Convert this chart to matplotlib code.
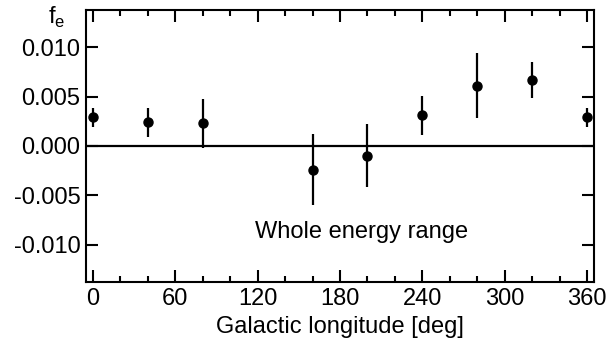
import matplotlib
matplotlib.use("Agg")
import matplotlib.pyplot as plt
from matplotlib.ticker import MultipleLocator

plt.rcParams['font.family'] = ['Liberation Sans', 'DejaVu Sans']

longitude = [0, 40, 80, 160, 200, 240, 280, 320, 360]
fe = [0.0029, 0.0024, 0.0023, -0.0024, -0.0010, 0.0031, 0.0061, 0.0067, 0.0029]
fe_err = [0.0010, 0.0015, 0.0025, 0.0036, 0.0032, 0.0020, 0.0033, 0.0018, 0.0010]
xticks = [0, 60, 120, 180, 240, 300, 360]
yticks = [-0.010, -0.005, 0.000, 0.005, 0.010]
ytick_labels = ["-0.010", "-0.005", "0.000", "0.005", "0.010"]

fig = plt.figure(figsize=(6.07, 3.40), dpi=100)
ax = fig.add_axes([86/607, 1-282/340, (594-86)/607, (282-10)/340])

ax.axhline(0, color='black', lw=1.6, zorder=1)
ax.errorbar(longitude, fe, yerr=fe_err, fmt='o', color='black', ms=6.5,
            elinewidth=1.6, capsize=0, zorder=3)

ax.set_xlim(-5, 365)
ax.set_ylim(-0.0138, 0.0138)
ax.set_xticks(xticks)
ax.xaxis.set_minor_locator(MultipleLocator(20))
ax.set_yticks(yticks)
ax.set_yticklabels(ytick_labels)

for s in ax.spines.values():
    s.set_linewidth(1.5)
ax.tick_params(which='both', direction='in', top=True, right=True, width=1.5,
               labelsize=17, colors='black')
ax.tick_params(which='major', length=8.5, pad=4)
ax.tick_params(which='minor', length=4.3)

ax.set_xlabel('Galactic longitude [deg]', fontsize=17, labelpad=4.5)
fig.text(362/607, 1-232/340, 'Whole energy range', fontsize=17, ha='center', va='center')
fig.text(57/607, 1-17/340, r'f$_\mathregular{e}$', fontsize=17, ha='center', va='center')

fig.savefig('out.png', dpi=100)
